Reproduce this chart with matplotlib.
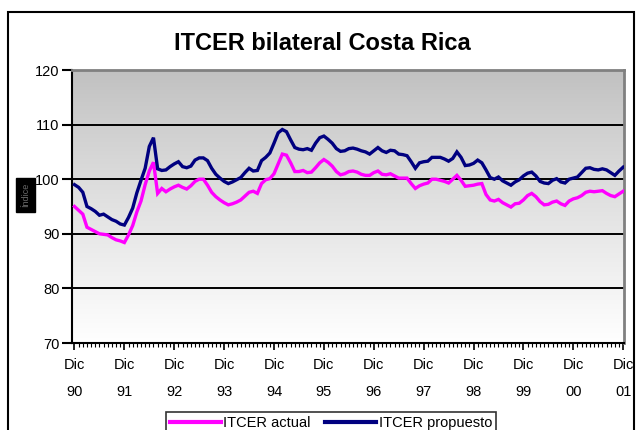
import numpy as np
import matplotlib
matplotlib.use('Agg')
import matplotlib.pyplot as plt
from matplotlib.patches import Rectangle

plt.rcParams['font.family'] = ['Liberation Sans', 'DejaVu Sans']

# ITCER mensual, dic-1990 a dic-2001
itcer_actual = [
    95.0,
    94.3, 93.6, 91.2, 90.8, 90.4, 90.0, 89.9, 89.8, 89.3, 88.9, 88.7, 88.4,
    89.8, 91.5, 94.0, 96.0, 99.0, 101.5, 103.1, 97.4, 98.3, 97.7, 98.2, 98.6,
    98.9, 98.5, 98.2, 98.8, 99.6, 100.0, 100.0, 98.9, 97.6, 96.8, 96.2, 95.7,
    95.3, 95.5, 95.8, 96.2, 96.9, 97.6, 97.8, 97.4, 99.2, 99.9, 100.1, 101.0,
    102.8, 104.6, 104.4, 103.0, 101.4, 101.4, 101.6, 101.2, 101.3, 102.1, 103.0, 103.6,
    103.1, 102.4, 101.4, 100.8, 101.0, 101.4, 101.5, 101.3, 100.9, 100.7, 100.7, 101.2,
    101.5, 100.9, 100.8, 101.0, 100.6, 100.2, 100.2, 100.2, 99.2, 98.3, 98.8, 99.1,
    99.3, 100.0, 100.0, 99.8, 99.6, 99.3, 100.0, 100.7, 99.8, 98.7, 98.8, 98.9,
    99.1, 99.2, 97.2, 96.2, 96.0, 96.3, 95.7, 95.3, 94.9, 95.5, 95.6, 96.2,
    97.0, 97.4, 96.8, 95.9, 95.3, 95.4, 95.8, 96.0, 95.5, 95.2, 96.0, 96.4,
    96.6, 97.0, 97.6, 97.8, 97.7, 97.8, 97.9, 97.4, 97.0, 96.8, 97.3, 97.8,
]
itcer_propuesto = [
    99.0,
    98.5, 97.6, 95.0, 94.6, 94.1, 93.4, 93.6, 93.1, 92.6, 92.3, 91.8, 91.6,
    93.0, 94.7, 97.5, 99.8, 102.0, 106.0, 107.6, 101.9, 101.6, 101.7, 102.3, 102.8,
    103.2, 102.3, 102.1, 102.4, 103.5, 103.9, 103.9, 103.4, 102.0, 100.9, 100.2, 99.6,
    99.2, 99.5, 99.9, 100.3, 101.2, 102.0, 101.5, 101.6, 103.4, 104.0, 104.8, 106.6,
    108.5, 109.1, 108.7, 107.2, 105.8, 105.5, 105.4, 105.6, 105.3, 106.6, 107.6, 107.9,
    107.3, 106.6, 105.6, 105.1, 105.2, 105.6, 105.7, 105.5, 105.2, 105.0, 104.6, 105.2,
    105.8, 105.2, 104.9, 105.3, 105.2, 104.6, 104.5, 104.3, 103.2, 102.0, 103.0, 103.2,
    103.3, 104.0, 104.0, 104.0, 103.7, 103.3, 103.8, 105.0, 104.0, 102.5, 102.6, 102.9,
    103.5, 103.0, 101.7, 100.3, 100.0, 100.4, 99.7, 99.3, 98.9, 99.5, 99.9, 100.6,
    101.1, 101.3, 100.6, 99.6, 99.3, 99.2, 99.8, 100.1, 99.5, 99.3, 100.0, 100.2,
    100.4, 101.2, 102.0, 102.1, 101.8, 101.7, 101.9, 101.7, 101.2, 100.7, 101.5, 102.2,
]
anios = ['90', '91', '92', '93', '94', '95', '96', '97', '98', '99', '00', '01']
yticks = [70, 80, 90, 100, 110, 120]

meses = np.arange(len(itcer_actual))

fig = plt.figure(figsize=(6.37, 4.30), dpi=100)
fig.patch.set_facecolor('white')

# marco exterior del grafico
fig.patches.append(Rectangle((8 / 637, -0.05), 626 / 637, 1 - 12 / 430 + 0.05,
                             transform=fig.transFigure, fill=False,
                             edgecolor='black', linewidth=1.5))

ax = fig.add_axes([72 / 637, 1 - 343 / 430, 552 / 637, 273 / 430])

# fondo degradado gris -> blanco
grad = np.linspace(0, 1, 256).reshape(-1, 1)
top, bot = np.array([192, 192, 192]) / 255, np.array([255, 255, 255]) / 255
img = top + (bot - top) * grad[:, :, None] ** 0.9
ax.imshow(img, extent=[-0.6, 132.2, 70, 120], aspect='auto', zorder=0,
          origin='upper')

for y in [80, 90, 100, 110]:
    ax.axhline(y, color='black', linewidth=1.4, zorder=1)

ax.plot(meses, itcer_actual, color='#ff00ff', linewidth=2.4, zorder=3,
        label='ITCER actual', solid_joinstyle='miter')
ax.plot(meses, itcer_propuesto, color='#000080', linewidth=2.4, zorder=3,
        label='ITCER propuesto', solid_joinstyle='miter')

ax.set_xlim(-0.6, 132.2)
ax.set_ylim(70, 120)

ax.set_yticks(yticks)
ax.set_yticklabels([str(v) for v in yticks], fontsize=10.5)
ax.set_xticks(np.arange(0, 133, 12))
ax.set_xticklabels(['Dic\n' + a for a in anios], fontsize=10.5, linespacing=2.15)
ax.set_xticks(meses, minor=True)
ax.tick_params(axis='x', which='major', length=5, width=1.2, pad=6)
ax.tick_params(axis='x', which='minor', length=3, width=0.8)
ax.tick_params(axis='y', which='major', length=7, width=1.5, pad=2)

for s in ['left', 'bottom']:
    ax.spines[s].set_linewidth(1.5)
    ax.spines[s].set_color('black')
for s in ['top', 'right']:
    ax.spines[s].set_linewidth(2)
    ax.spines[s].set_color('#808080')

fig.text(322 / 637, 1 - 43 / 430, 'ITCER bilateral Costa Rica', ha='center',
         va='center', fontsize=17, fontweight='bold')

# titulo del eje Y
fig.text(25.5 / 637, 1 - 195 / 430, 'Índice', rotation=90, ha='center',
         va='center', fontsize=6.5, color='#6a6a6a',
         bbox=dict(facecolor='black', edgecolor='black', pad=3.5))

leg = fig.legend(loc='upper center', bbox_to_anchor=(331 / 637, 1 - 412 / 430),
                 ncol=2, fontsize=10.5, frameon=True, fancybox=False,
                 handlelength=3.5, handletextpad=0.15, columnspacing=1.0,
                 borderpad=0.25, borderaxespad=0)
leg.get_frame().set_edgecolor('black')
leg.get_frame().set_linewidth(1.2)
for line in leg.get_lines():
    line.set_linewidth(3)

fig.savefig('out.png', dpi=100)
